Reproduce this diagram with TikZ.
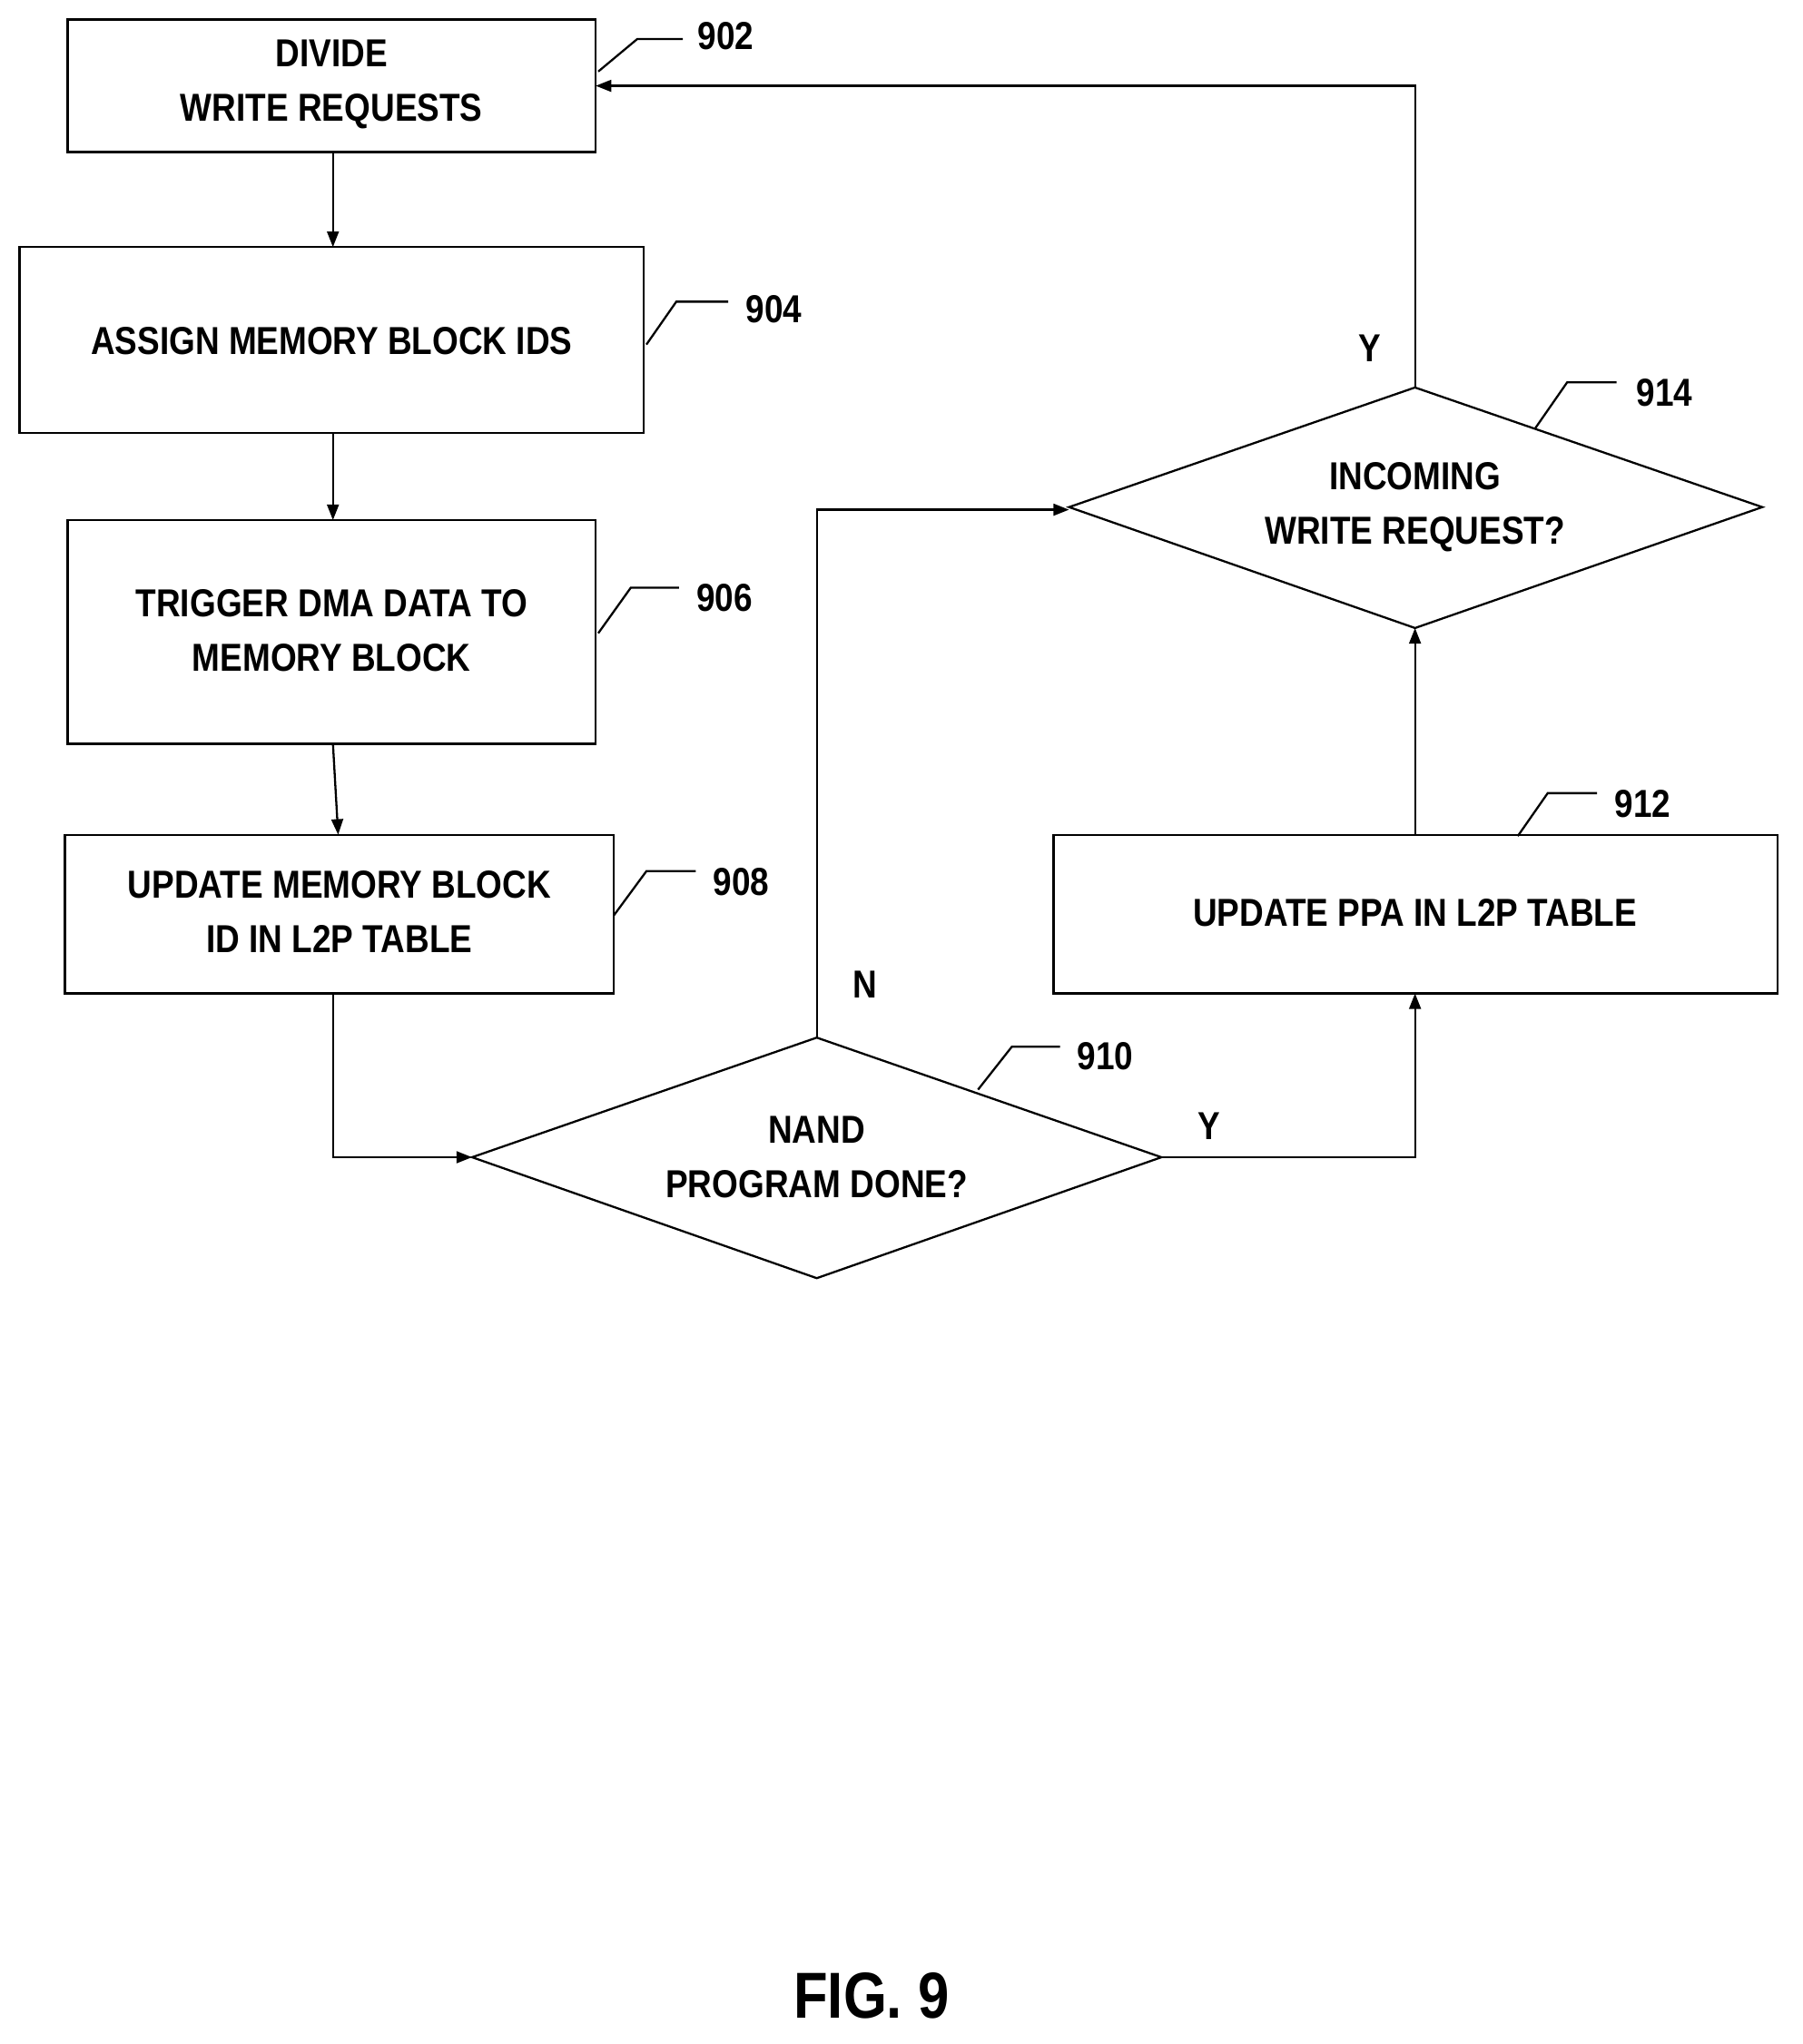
\documentclass[tikz,border=0pt]{standalone}
\usepackage{fontspec}
\setmainfont{Liberation Sans}[FakeStretch=0.86]
\usetikzlibrary{shapes.geometric,arrows.meta}
\begin{document}
\begin{tikzpicture}[x=1pt,y=-1pt,
  lbl/.style={font=\fontsize{30}{42}\selectfont\bfseries,align=center},
  box/.style={draw,line width=1.6pt},
  arr/.style={line width=1.6pt,-{Triangle[length=12pt,width=9pt]}},
  ld/.style={line width=1.6pt}]
\useasboundingbox (0,0) rectangle (1386,1572);
\draw[box] (52,15) rectangle (458,117);
\node[lbl] (n902) at (255,65) {DIVIDE\\WRITE REQUESTS};
\draw[box] (15,190) rectangle (495,333);
\node[lbl] (n904) at (255,262) {ASSIGN MEMORY BLOCK IDS};
\draw[box] (52,400) rectangle (458,572);
\node[lbl] (n906) at (255,485) {TRIGGER DMA DATA TO\\MEMORY BLOCK};
\draw[box] (50,642) rectangle (472,764);
\node[lbl] (n908) at (261,701) {UPDATE MEMORY BLOCK\\ID IN L2P TABLE};
\draw[box] (810,642) rectangle (1367,764);
\node[lbl] (n912) at (1088,702) {UPDATE PPA IN L2P TABLE};
\draw[box] (363,890) -- (628,798) -- (893,890) -- (628,983) -- cycle;
\node[lbl] (n910) at (628,890) {NAND\\PROGRAM DONE?};
\draw[box] (822,390) -- (1088,298) -- (1355,390) -- (1088,483) -- cycle;
\node[lbl] (n914) at (1088,390) {INCOMING\\WRITE REQUEST?};
\coordinate (a1) at (256,117); \coordinate (a2) at (256,190);
\coordinate (b1) at (256,333); \coordinate (b2) at (256,400);
\coordinate (c1) at (256,572); \coordinate (c2) at (260,642);
\draw[arr] (a1) -- (a2);
\draw[arr] (b1) -- (b2);
\draw[arr] (c1) -- (c2);
\draw[arr] (256,764) -- (256,890) -- (363,890);
\draw[arr] (628,798) -- (628,392) -- (822,392);
\draw[arr] (893,890) -- (1088,890) -- (1088,764);
\draw[arr] (1088,642) -- (1088,483);
\draw[arr] (1088,298) -- (1088,66) -- (458,66);
\node[lbl] (y1) at (1053,268) {Y};
\node[lbl] (nn) at (665,757) {N};
\node[lbl] (y2) at (930,866) {Y};
\draw[ld] (460,55) -- (490,30) -- (525,30); \node[lbl] (r902) at (558,28) {902};
\draw[ld] (497,265) -- (520,232) -- (560,232); \node[lbl] (r904) at (595,238) {904};
\draw[ld] (460,487) -- (485,452) -- (522,452); \node[lbl] (r906) at (557,460) {906};
\draw[ld] (472,704) -- (497,670) -- (535,670); \node[lbl] (r908) at (570,678) {908};
\draw[ld] (752,838) -- (778,805) -- (815,805); \node[lbl] (r910) at (850,812) {910};
\draw[ld] (1167,643) -- (1190,610) -- (1228,610); \node[lbl] (r912) at (1263,618) {912};
\draw[ld] (1180,330) -- (1205,294) -- (1243,294); \node[lbl] (r914) at (1280,302) {914};
\node[font=\fontsize{50}{60}\selectfont\bfseries] (fig) at (670,1535) {FIG. 9};
\end{tikzpicture}
\end{document}
